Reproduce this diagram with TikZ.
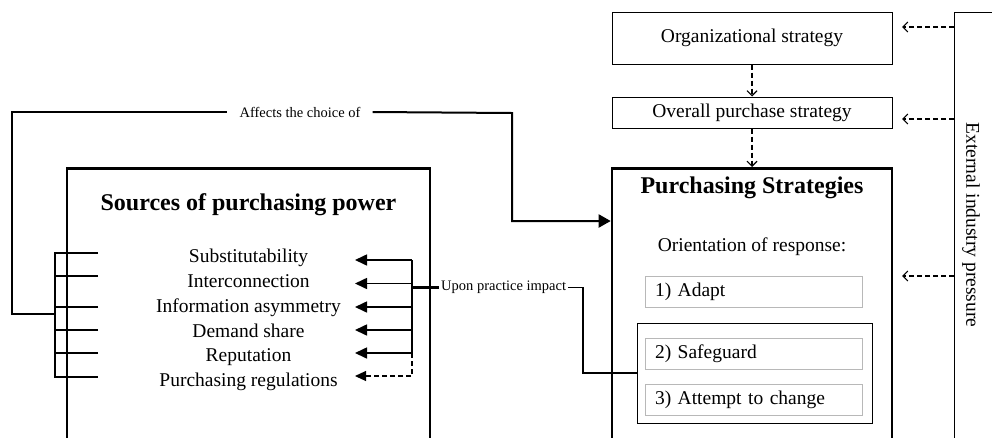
\documentclass[tikz,border=0pt]{standalone}
\usepackage{fontspec}
\setmainfont{Liberation Serif}
\usetikzlibrary{arrows.meta}
\newcommand\mainsz{\fontsize{19.5pt}{23pt}\selectfont}
\newcommand\titlesz{\fontsize{24pt}{28pt}\selectfont\bfseries}
\newcommand\smallsz{\fontsize{14.5pt}{17pt}\selectfont}
\begin{document}
\begin{tikzpicture}[x=1pt,y=-1pt,
  bigbox/.style={draw, line width=2.6pt, inner sep=0pt},
  thinbox/.style={draw, line width=1pt, inner sep=0pt, minimum width=280pt, font=\mainsz},
  optbox/.style={draw=black!28, line width=1pt, minimum height=31pt, text width=197pt,
    inner xsep=10pt, inner ysep=0pt, align=left, font=\mainsz},
  grpbox/.style={draw, line width=1pt, inner sep=0pt},
  itemtxt/.style={font=\mainsz, inner sep=0pt, anchor=base},
  titletxt/.style={font=\titlesz, inner sep=0pt, anchor=base},
  smalltxt/.style={font=\smallsz},
  brline/.style={line width=1.6pt},
  conline/.style={line width=2pt},
  heavyline/.style={line width=2.6pt},
  rowarrow/.style={line width=1.6pt, -{Triangle[length=12pt,width=11pt]}},
  dasharrow/.style={line width=1.1pt, dash pattern=on 5pt off 3pt, -{Straight Barb[length=5pt,width=10pt]}},
  dashfill/.style={line width=1.1pt, dash pattern=on 5pt off 3pt, -{Triangle[length=11pt,width=10pt]}},
]
\path[use as bounding box] (0,0) rectangle (992,437);
\clip (0,0) rectangle (992,437);

% ---------- right column ----------
\node[thinbox, minimum height=52pt] (org) at (752,38) {Organizational strategy};
\node[thinbox, minimum height=31pt] (overall) at (752,112.5) {Overall purchase strategy};
\node[bigbox, minimum width=280pt, minimum height=320pt, anchor=north] (ps) at (752,167) {};
\node[titletxt] (pstitle) at (752,193) {Purchasing Strategies};
\node[font=\mainsz] (orient) at (752,247) {Orientation of response:};
\node[optbox] (adapt) at (753.5,291.5) {1) Adapt};
\node[grpbox, minimum width=235pt, minimum height=100pt] (grp) at (754.5,373) {};
\node[optbox] (safe) at (753.5,353.5) {2) Safeguard};
\node[optbox] (attempt) at (753.5,399.5) {3) Attempt to change};

\draw[dasharrow] (org.south) -- (overall.north);
\draw[dasharrow] (overall.south) -- (ps.north);

% external industry pressure
\node[draw, line width=1pt, minimum width=120pt, minimum height=500pt, anchor=north west, inner sep=0pt] (ext) at (954,12) {};
\node[font=\mainsz, rotate=-90] (exttxt) at (971,225) {External industry pressure};
\coordinate (e1) at (902,27);
\coordinate (e2) at (902,119);
\coordinate (e3) at (902,276);
\draw[dasharrow] (ext.west |- e1) -- (e1);
\draw[dasharrow] (ext.west |- e2) -- (e2);
\draw[dasharrow] (ext.west |- e3) -- (e3);

% ---------- left column ----------
\node[bigbox, minimum width=363pt, minimum height=320pt, anchor=north] (src) at (248.5,167) {};
\node[titletxt] (srctitle) at (248.5,210) {Sources of purchasing power};
\node[itemtxt] (i1) at (248.5,262.5) {Substitutability};
\node[itemtxt] (i2) at (248.5,287) {Interconnection};
\node[itemtxt] (i3) at (248.5,312) {Information asymmetry};
\node[itemtxt] (i4) at (248.5,337) {Demand share};
\node[itemtxt] (i5) at (248.5,361.5) {Reputation};
\node[itemtxt] (i6) at (248.5,386) {Purchasing regulations};

% left bracket
\coordinate (b1) at (98,253);
\coordinate (b2) at (98,276);
\coordinate (b3) at (98,307);
\coordinate (b4) at (98,330);
\coordinate (b5) at (98,353);
\coordinate (b6) at (98,377);
\coordinate (bx) at (55,0);
\draw[brline] (b1) -- (bx |- b1) -- (bx |- b6) -- (b6);
\foreach \k in {2,3,4,5} \draw[brline] (b\k) -- (bx |- b\k);
\coordinate (bj) at (55,314);

% "Affects the choice of" connector
\node[smalltxt, inner xsep=12pt, inner ysep=0pt] (aff) at (300,112) {Affects the choice of};
\draw[conline] (bj) -- (12,314) |- (aff.west);
\draw[conline, -{Triangle[length=12pt,width=13pt]}] (aff.east) -- (512,113) |- (ps.west |- 0,221);

% right arrows into items
\coordinate (t1) at (355,260);
\coordinate (t2) at (355,283.5);
\coordinate (t3) at (355,307);
\coordinate (t4) at (355,330);
\coordinate (t5) at (355,353);
\coordinate (t6) at (355,376);
\coordinate (vx) at (412,0);
\draw[brline] (vx |- t1) -- (vx |- t5);
\foreach \k in {1,2,3,4,5} \draw[rowarrow] (vx |- t\k) -- (t\k);
\draw[dashfill] (vx |- t5) -- (vx |- t6) -- (t6);

% "Upon practice impact" connector
\node[smalltxt, anchor=west, inner xsep=2pt, inner ysep=0pt] (upon) at (439,287.5) {Upon practice impact};
\draw[heavyline] (vx |- upon.west) -- (upon.west);
\draw[brline] (upon.east) -- ++(15,0) |- (grp.west);
\end{tikzpicture}
\end{document}
